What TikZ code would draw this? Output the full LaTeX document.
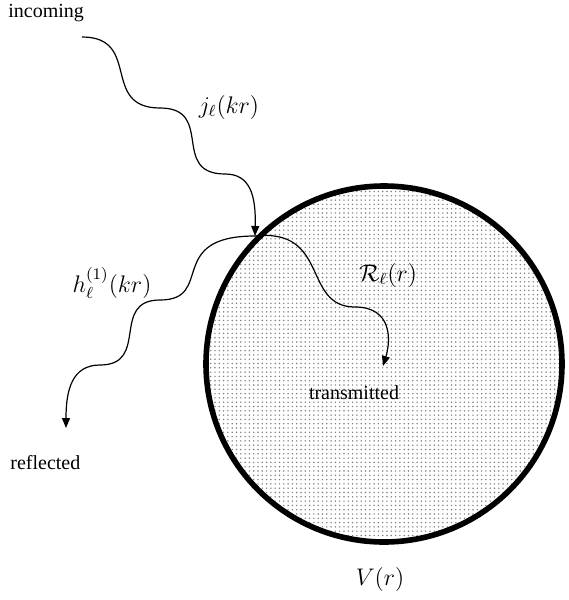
\documentclass[tikz,border=0pt]{standalone}
\usepackage{fontspec}
\setmainfont{Liberation Serif}
\usetikzlibrary{arrows.meta}
\usetikzlibrary{patterns.meta}

\begin{document}
\begin{tikzpicture}[x=0.5pt,y=-0.5pt,
    wave/.style={line width=0.6pt,-{Triangle[length=5pt,width=4pt]}},
    lbl/.style={inner sep=0pt},
    mlbl/.style={inner sep=0pt,font=\large}]
    \useasboundingbox (0,0) rectangle (568,600);

    \coordinate (ctr) at (384,364);
    \coordinate (hit) at (255,236);

    \coordinate (src) at (82,37);
    \coordinate (s1) at (160,108);
    \coordinate (s2) at (225,174);

    \coordinate (r1) at (160,300);
    \coordinate (r2) at (100,365);
    \coordinate (rend) at (66,428);

    \coordinate (t1) at (355,307);
    \coordinate (tend) at (383,366);

    % the scatterer
    \draw[line width=2.8pt,pattern={Dots[distance=2.15pt,radius=0.42pt]},pattern color=black!50] (ctr) circle (89pt);

    \draw[wave] (src) .. controls (142,37) and (100,108) .. (s1)
        .. controls (215,108) and (170,174) .. (s2)
        .. controls (250,174) and (256,195) .. (hit);
    \draw[wave] (hit) .. controls (165,236) and (215,300) .. (r1)
        .. controls (110,300) and (150,365) .. (r2)
        .. controls (72,365) and (66,390) .. (rend);
    \draw[wave] (hit) .. controls (330,228) and (302,307) .. (t1)
        .. controls (392,307) and (391,340) .. (tend);

    \node[lbl,anchor=west] (incoming) at (8,13) {incoming};
    \node[mlbl] (jl) at (229,107) {$j_\ell(kr)$};
    \node[mlbl] (hl) at (112,283) {$h_\ell^{(1)}(kr)$};
    \node[mlbl] (Rl) at (388,275) {$\mathcal{R}_\ell(r)$};
    \node[lbl] (trans) at (354,393) {transmitted};
    \node[lbl,anchor=west] (refl) at (10,463) {reflected};
    \node[mlbl] (Vr) at (380,579) {$V(r)$};
\end{tikzpicture}
\end{document}
